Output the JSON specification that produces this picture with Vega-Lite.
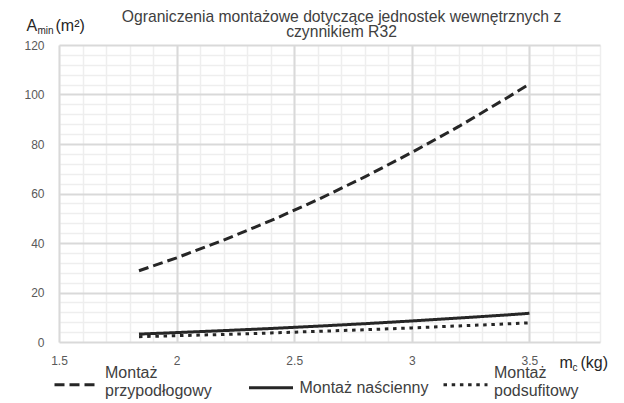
{
  "$schema": "https://vega.github.io/schema/vega-lite/v6.json",
  "width": 541,
  "height": 297,
  "autosize": {"type": "none"},
  "padding": {"left": 59, "top": 45, "right": 24, "bottom": 61},
  "background": "white",
  "title": {
    "text": ["Ograniczenia montażowe dotyczące jednostek wewnętrznych z", "czynnikiem R32"],
    "font": "Liberation Sans",
    "fontSize": 15.7,
    "fontWeight": "normal",
    "color": "#404040",
    "anchor": "middle",
    "baseline": "top",
    "lineHeight": 15,
    "offset": -24,
    "dx": 12
  },
  "data": {
    "values": [
      {"s": "Montaż przypodłogowy", "m": 1.84, "A": 28.8},
      {"s": "Montaż przypodłogowy", "m": 2.0, "A": 34.0},
      {"s": "Montaż przypodłogowy", "m": 2.2, "A": 41.2},
      {"s": "Montaż przypodłogowy", "m": 2.4, "A": 49.0},
      {"s": "Montaż przypodłogowy", "m": 2.6, "A": 57.5},
      {"s": "Montaż przypodłogowy", "m": 2.8, "A": 66.7},
      {"s": "Montaż przypodłogowy", "m": 3.0, "A": 76.6},
      {"s": "Montaż przypodłogowy", "m": 3.2, "A": 87.1},
      {"s": "Montaż przypodłogowy", "m": 3.4, "A": 98.4},
      {"s": "Montaż przypodłogowy", "m": 3.5, "A": 104.2},
      {"s": "Montaż naścienny", "m": 1.84, "A": 3.2},
      {"s": "Montaż naścienny", "m": 2.0, "A": 3.8},
      {"s": "Montaż naścienny", "m": 2.2, "A": 4.6},
      {"s": "Montaż naścienny", "m": 2.4, "A": 5.45},
      {"s": "Montaż naścienny", "m": 2.6, "A": 6.4},
      {"s": "Montaż naścienny", "m": 2.8, "A": 7.4},
      {"s": "Montaż naścienny", "m": 3.0, "A": 8.5},
      {"s": "Montaż naścienny", "m": 3.2, "A": 9.7},
      {"s": "Montaż naścienny", "m": 3.4, "A": 10.9},
      {"s": "Montaż naścienny", "m": 3.5, "A": 11.6},
      {"s": "Montaż podsufitowy", "m": 1.84, "A": 2.15},
      {"s": "Montaż podsufitowy", "m": 2.0, "A": 2.55},
      {"s": "Montaż podsufitowy", "m": 2.2, "A": 3.05},
      {"s": "Montaż podsufitowy", "m": 2.4, "A": 3.65},
      {"s": "Montaż podsufitowy", "m": 2.6, "A": 4.3},
      {"s": "Montaż podsufitowy", "m": 2.8, "A": 4.95},
      {"s": "Montaż podsufitowy", "m": 3.0, "A": 5.7},
      {"s": "Montaż podsufitowy", "m": 3.2, "A": 6.5},
      {"s": "Montaż podsufitowy", "m": 3.4, "A": 7.3},
      {"s": "Montaż podsufitowy", "m": 3.5, "A": 7.75}
    ]
  },
  "resolve": {"axis": {"x": "independent", "y": "independent"}},
  "layer": [
    {
      "mark": {"type": "line", "strokeWidth": 3, "strokeCap": "butt"},
      "encoding": {
        "x": {
          "field": "m",
          "type": "quantitative",
          "scale": {"domain": [1.5, 3.8], "nice": false, "zero": false},
          "axis": {
            "orient": "bottom",
            "values": [1.5, 1.6, 1.7, 1.8, 1.9, 2, 2.1, 2.2, 2.3, 2.4, 2.5, 2.6, 2.7, 2.8, 2.9, 3, 3.1, 3.2, 3.3, 3.4, 3.5, 3.6, 3.7, 3.8],
            "format": "~g",
            "labelExpr": "abs(datum.value*2 - round(datum.value*2)) < 0.01 ? datum.label : ''",
            "labelFlush": false,
            "labelOverlap": false,
            "labelFont": "Liberation Sans",
            "labelFontSize": 12,
            "labelColor": "#595959",
            "labelPadding": 310,
            "grid": true,
            "gridColor": "#eeeeee",
            "gridWidth": 1.5,
            "ticks": true,
            "tickSize": -297,
            "tickWidth": 2,
            "tickColor": {"condition": {"test": "abs(datum.value*2 - round(datum.value*2)) < 0.01", "value": "#d9d9d9"}, "value": "transparent"},
            "domain": false,
            "title": "m",
            "titleX": 500,
            "titleY": 25,
            "titleAlign": "left",
            "titleBaseline": "alphabetic",
            "titleAngle": 0,
            "titleFont": "Liberation Sans",
            "titleFontSize": 16,
            "titleFontWeight": "normal",
            "titleColor": "#262626"
          }
        },
        "y": {
          "field": "A",
          "type": "quantitative",
          "scale": {"domain": [0, 120], "nice": false},
          "axis": {
            "orient": "left",
            "values": [0, 4, 8, 12, 16, 20, 24, 28, 32, 36, 40, 44, 48, 52, 56, 60, 64, 68, 72, 76, 80, 84, 88, 92, 96, 100, 104, 108, 112, 116, 120],
            "labelExpr": "datum.value % 20 == 0 ? datum.label : ''",
            "labelOverlap": false,
            "labelFlush": false,
            "labelFont": "Liberation Sans",
            "labelFontSize": 12,
            "labelColor": "#595959",
            "labelPadding": 15,
            "ticks": false,
            "tickSize": 0,
            "grid": true,
            "gridColor": {"condition": {"test": "datum.value % 20 == 0", "value": "#d9d9d9"}, "value": "#eeeeee"},
            "gridWidth": {"condition": {"test": "datum.value % 20 == 0", "value": 2}, "value": 1.5},
            "domain": false,
            "title": "A",
            "titleX": -33,
            "titleY": -15,
            "titleAlign": "left",
            "titleBaseline": "alphabetic",
            "titleAngle": 0,
            "titleFont": "Liberation Sans",
            "titleFontSize": 16,
            "titleFontWeight": "normal",
            "titleColor": "#262626"
          }
        },
        "color": {
          "field": "s",
          "type": "nominal",
          "scale": {"domain": ["Montaż przypodłogowy", "Montaż naścienny", "Montaż podsufitowy"], "range": ["#262626", "#262626", "#262626"]},
          "legend": {
            "orient": "none",
            "legendX": -6,
            "legendY": 316,
            "direction": "horizontal",
            "gridAlign": "all",
            "title": null,
            "symbolType": "stroke",
            "symbolSize": 1936,
            "symbolStrokeWidth": 3,
            "labelFont": "Liberation Sans",
            "labelFontSize": 16,
            "labelColor": "#404040",
            "labelOffset": 5,
            "columnPadding": 8.5,
            "labelLimit": 300,
            "labelExpr": "datum.label == 'Montaż naścienny' ? datum.label : split(datum.label, ' ')",
            "encode": {
              "labels": {"update": {"dy": {"signal": "datum.label == 'Montaż naścienny' ? 0 : -12"}}}
            }
          }
        },
        "strokeDash": {
          "field": "s",
          "type": "nominal",
          "scale": {"domain": ["Montaż przypodłogowy", "Montaż naścienny", "Montaż podsufitowy"], "range": [[10, 5], [1, 0], [3.5, 4.7]]},
          "legend": {
            "orient": "none",
            "legendX": -6,
            "legendY": 316,
            "direction": "horizontal",
            "gridAlign": "all",
            "title": null,
            "symbolType": "stroke",
            "symbolSize": 1936,
            "symbolStrokeWidth": 3,
            "labelFont": "Liberation Sans",
            "labelFontSize": 16,
            "labelColor": "#404040",
            "labelOffset": 5,
            "columnPadding": 8.5,
            "labelLimit": 300,
            "labelExpr": "datum.label == 'Montaż naścienny' ? datum.label : split(datum.label, ' ')",
            "encode": {
              "labels": {"update": {"dy": {"signal": "datum.label == 'Montaż naścienny' ? 0 : -12"}}}
            }
          }
        }
      }
    },
    {
      "mark": {"type": "line", "opacity": 0},
      "encoding": {
        "x": {
          "field": "m",
          "type": "quantitative",
          "axis": {
            "orient": "bottom",
            "labels": false, "ticks": false, "grid": false, "domain": false,
            "title": "c",
            "titleX": 513,
            "titleY": 28,
            "titleAlign": "left",
            "titleBaseline": "alphabetic",
            "titleAngle": 0,
            "titleFont": "Liberation Sans",
            "titleFontSize": 10,
            "titleFontWeight": "normal",
            "titleColor": "#262626"
          }
        },
        "y": {
          "field": "A",
          "type": "quantitative",
          "axis": {
            "orient": "left",
            "labels": false, "ticks": false, "grid": false, "domain": false,
            "title": "min",
            "titleX": -22,
            "titleY": -12,
            "titleAlign": "left",
            "titleBaseline": "alphabetic",
            "titleAngle": 0,
            "titleFont": "Liberation Sans",
            "titleFontSize": 10,
            "titleFontWeight": "normal",
            "titleColor": "#262626"
          }
        }
      }
    },
    {
      "mark": {"type": "line", "opacity": 0},
      "encoding": {
        "x": {
          "field": "m",
          "type": "quantitative",
          "axis": {
            "orient": "bottom",
            "labels": false, "ticks": false, "grid": false, "domain": false,
            "title": "(kg)",
            "titleX": 521,
            "titleY": 25,
            "titleAlign": "left",
            "titleBaseline": "alphabetic",
            "titleAngle": 0,
            "titleFont": "Liberation Sans",
            "titleFontSize": 16,
            "titleFontWeight": "normal",
            "titleColor": "#262626"
          }
        },
        "y": {
          "field": "A",
          "type": "quantitative",
          "axis": {
            "orient": "left",
            "labels": false, "ticks": false, "grid": false, "domain": false,
            "title": "(m²)",
            "titleX": -4,
            "titleY": -15,
            "titleAlign": "left",
            "titleBaseline": "alphabetic",
            "titleAngle": 0,
            "titleFont": "Liberation Sans",
            "titleFontSize": 16,
            "titleFontWeight": "normal",
            "titleColor": "#262626"
          }
        }
      }
    }
  ],
  "config": {
    "view": {"stroke": null},
    "font": "Liberation Sans"
  }
}
